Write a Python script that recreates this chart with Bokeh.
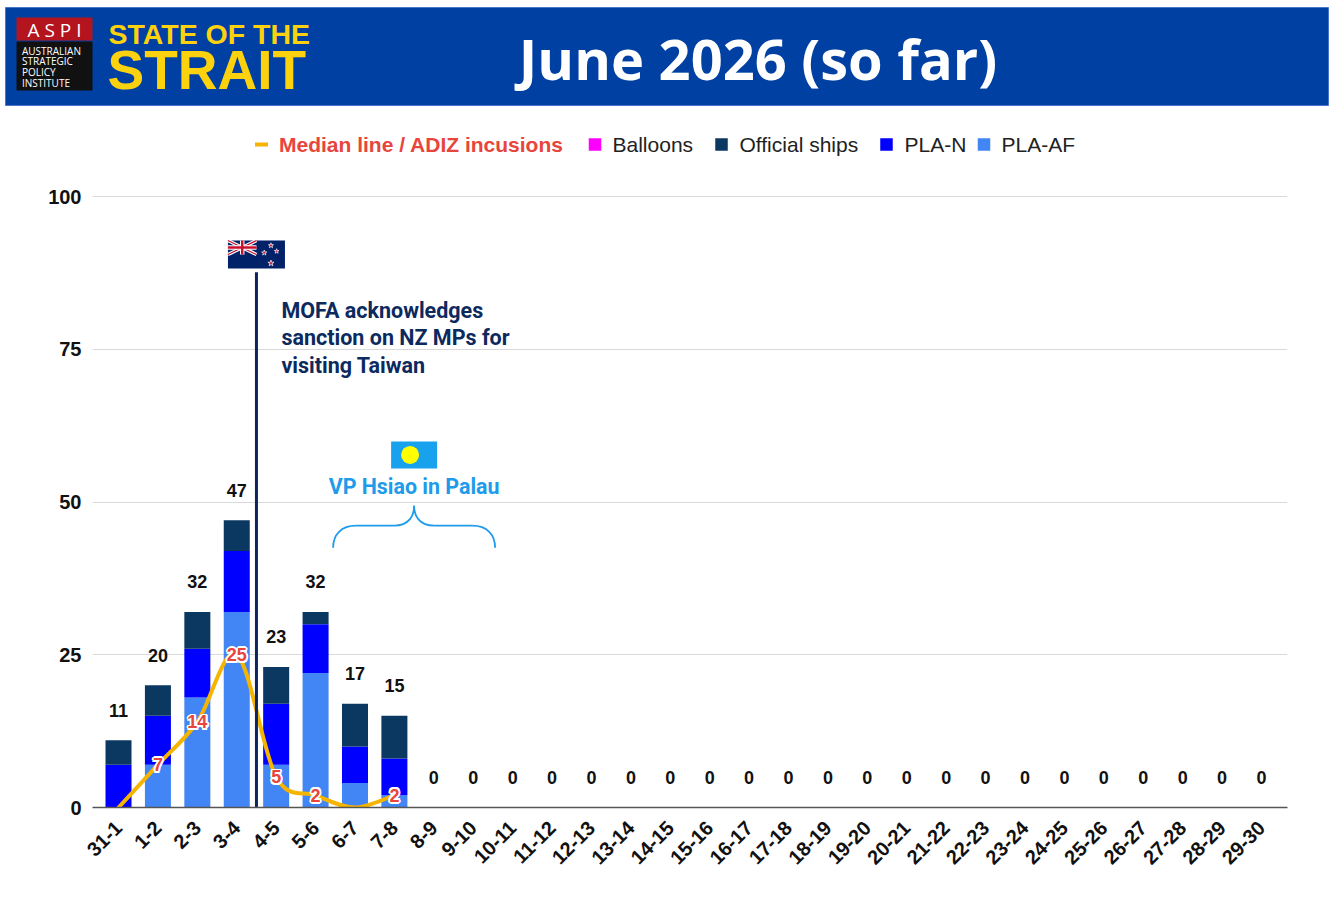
import math
from bokeh.plotting import figure
from bokeh.models import ColumnDataSource, Range1d, FixedTicker
from bokeh.layouts import column
from bokeh.core.properties import value
from bokeh.embed import file_html
from bokeh.resources import INLINE

# ---------------- data ----------------
days = ["31-1", "1-2", "2-3", "3-4", "4-5", "5-6", "6-7", "7-8", "8-9", "9-10",
        "10-11", "11-12", "12-13", "13-14", "14-15", "15-16", "16-17", "17-18",
        "18-19", "19-20", "20-21", "21-22", "22-23", "23-24", "24-25", "25-26",
        "26-27", "27-28", "28-29", "29-30"]
pla_af = [0, 7, 18, 32, 7, 22, 4, 2, 0, 0, 0, 0, 0, 0, 0, 0, 0, 0, 0, 0,
          0, 0, 0, 0, 0, 0, 0, 0, 0, 0]
pla_n = [7, 8, 8, 10, 10, 8, 6, 6, 0, 0, 0, 0, 0, 0, 0, 0, 0, 0, 0, 0,
         0, 0, 0, 0, 0, 0, 0, 0, 0, 0]
official_ships = [4, 5, 6, 5, 6, 2, 7, 7, 0, 0, 0, 0, 0, 0, 0, 0, 0, 0, 0, 0,
                  0, 0, 0, 0, 0, 0, 0, 0, 0, 0]
balloons = [0, 0, 0, 0, 0, 0, 0, 0, 0, 0, 0, 0, 0, 0, 0, 0, 0, 0, 0, 0,
            0, 0, 0, 0, 0, 0, 0, 0, 0, 0]
median_days = ["31-1", "1-2", "2-3", "3-4", "4-5", "5-6", "6-7", "7-8"]
median_vals = [0, 7, 14, 25, 5, 2, 0, 2]
y_ticks = [0, 25, 50, 75, 100]

series_names = ["PLA-AF", "PLA-N", "Official ships", "Balloons"]
series_colors = ["#4285f4", "#0000ff", "#0b3861", "#ff00ff"]
median_color = "#f4b400"
median_label_color = "#e8453c"

nz_event_text = ["MOFA acknowledges", "sanction on NZ MPs for", "visiting Taiwan"]
palau_event_text = "VP Hsiao in Palau"

# ---------------- layout constants ----------------
W = 1335
TOTAL_H = 905
HDR_H = 106
CH_H = TOTAL_H - HDR_H
MB_L, MB_R, MB_T, MB_B = 92, 48, 0, 98
FRAME_W = W - MB_L - MB_R
FRAME_H = CH_H - MB_T - MB_B
PX_Y = 6.11
YMAX = FRAME_H / PX_Y
XMIN, XMAX = -0.66, len(days) - 1 + 0.66
PX_X = FRAME_W / (XMAX - XMIN)


def ux(px):
    return px / PX_X


def uy(px):
    return px / PX_Y


FONT = value("Liberation Sans")
ROBOTO = value("Roboto")
OPEN = value("Open Sans")

# ---------------- header ----------------
h = figure(width=W, height=HDR_H, x_range=Range1d(0, W), y_range=Range1d(HDR_H, 0),
           toolbar_location=None, output_backend="svg", x_axis_type=None, y_axis_type=None,
           min_border=0, min_border_left=0, min_border_right=0, min_border_top=0,
           min_border_bottom=0, frame_align=False)
h.background_fill_color = "white"
h.border_fill_color = "white"
h.outline_line_color = None
h.grid.visible = False

h.quad(left=[5], right=[1328], top=[7], bottom=[105], fill_color="#0040a2",
       line_color="#4677c8", line_width=1)
h.quad(left=[16], right=[92], top=[17], bottom=[40], fill_color="#b3141d", line_color=None)
h.quad(left=[16], right=[92], top=[41], bottom=[90], fill_color="#111111", line_color=None)
h.text(x=[54], y=[29], text=["A S P I"], text_color="white", text_font=OPEN,
       text_font_size="19px", text_align="center", text_baseline="middle")
h.text(x=[21.5] * 4, y=[50, 60.7, 71.4, 82], text=["AUSTRALIAN", "STRATEGIC", "POLICY", "INSTITUTE"],
       text_color="white", text_font=OPEN, text_font_size="10px",
       text_align="left", text_baseline="middle")
h.text(x=[108], y=[33], text=["STATE OF THE"], text_color="#fcd20f",
       text_font=FONT, text_font_style="bold", text_font_size="28.5px", text_align="left",
       text_baseline="middle")
h.text(x=[107], y=[69], text=["STRAIT"], text_color="#fcd20f", text_font=FONT,
       text_font_style="bold", text_font_size="55px", text_align="left",
       text_baseline="middle")
h.text(x=[757.5], y=[57], text=["June 2026 (so far)"], text_color="white",
       text_font=OPEN, text_font_style="bold", text_font_size="56px",
       text_align="center", text_baseline="middle")

# ---------------- chart ----------------
p = figure(width=W, height=CH_H, x_range=Range1d(XMIN, XMAX), y_range=Range1d(0, YMAX),
           toolbar_location=None, output_backend="svg",
           min_border_left=MB_L, min_border_right=MB_R, min_border_top=MB_T,
           min_border_bottom=MB_B, frame_align=False)
p.outline_line_color = None
p.background_fill_color = "white"
p.border_fill_color = "white"

idx = list(range(len(days)))
src = ColumnDataSource(dict(x=idx, pla_af=pla_af, pla_n=pla_n,
                            official_ships=official_ships, balloons=balloons))
p.vbar_stack(["pla_af", "pla_n", "official_ships", "balloons"], x="x", width=0.66,
             fill_color=series_colors, line_color=None, source=src)

totals = [a + b + c + d for a, b, c, d in zip(pla_af, pla_n, official_ships, balloons)]
p.text(x=idx, y=totals, text=[str(t) for t in totals], y_offset=-30,
       text_font=FONT, text_font_style="bold", text_font_size="18px", text_color="#111111",
       text_align="center", text_baseline="middle")

# median smooth line (Catmull-Rom rendered as bezier curves)
mx = [days.index(d) for d in median_days]
my = median_vals
n = len(mx)
bx0, by0, bx1, by1, bcx0, bcy0, bcx1, bcy1 = [], [], [], [], [], [], [], []
for i in range(n - 1):
    pxm, pym = (mx[i - 1], my[i - 1]) if i > 0 else (mx[i], my[i])
    pxn, pyn = (mx[i + 2], my[i + 2]) if i + 2 < n else (mx[i + 1], my[i + 1])
    bx0.append(mx[i]); by0.append(my[i])
    bx1.append(mx[i + 1]); by1.append(my[i + 1])
    bcx0.append(mx[i] + (mx[i + 1] - pxm) / 6); bcy0.append(my[i] + (my[i + 1] - pym) / 6)
    bcx1.append(mx[i + 1] - (pxn - mx[i]) / 6); bcy1.append(my[i + 1] - (pyn - my[i]) / 6)
p.bezier(x0=bx0, y0=by0, x1=bx1, y1=by1, cx0=bcx0, cy0=bcy0, cx1=bcx1, cy1=bcy1,
         line_color=median_color, line_width=4, line_cap="round")

lab_x = [x for x, v in zip(mx, my) if v > 0]
lab_y = [v for v in my if v > 0]
lab_t = [str(v) for v in my if v > 0]
for ox, oy in [(-1.8, 0), (1.8, 0), (0, -1.8), (0, 1.8), (-1.3, -1.3), (1.3, 1.3), (-1.3, 1.3), (1.3, -1.3)]:
    p.text(x=lab_x, y=lab_y, text=lab_t, x_offset=ox, y_offset=oy, text_font=FONT,
           text_font_style="bold", text_font_size="18px", text_color="white",
           text_align="center", text_baseline="middle")
p.text(x=lab_x, y=lab_y, text=lab_t, text_font=FONT, text_font_style="bold",
       text_font_size="18px", text_color=median_label_color,
       text_align="center", text_baseline="middle")

# ---- NZ event: vertical line between 3-4 and 4-5, flag and text ----
NZX = days.index("3-4") + 0.5
nz_top = 87.6
p.segment(x0=[NZX], y0=[0], x1=[NZX], y1=[nz_top], line_color="#0b2560", line_width=3)
FX, FY = NZX, 90.5
p.rect(x=[FX], y=[FY], width=[57], height=[28], width_units="screen", height_units="screen",
       fill_color="#012169", line_color=None)
cl, cr, cb, ct = FX - ux(28.5), FX, FY, FY + uy(14)
cmx, cmy = (cl + cr) / 2, (cb + ct) / 2
p.segment(x0=[cl, cl], y0=[ct, cb], x1=[cr, cr], y1=[cb, ct], line_color="white", line_width=3.5)
p.segment(x0=[cl, cl], y0=[ct, cb], x1=[cr, cr], y1=[cb, ct], line_color="#c8102e", line_width=1.2)
p.segment(x0=[cl, cmx], y0=[cmy, cb], x1=[cr, cmx], y1=[cmy, ct], line_color="white", line_width=4.5)
p.segment(x0=[cl, cmx], y0=[cmy, cb], x1=[cr, cmx], y1=[cmy, ct], line_color="#c8102e", line_width=2.5)
p.scatter(x=[FX + ux(14.5), FX + ux(7.8), FX + ux(20.2), FX + ux(14.5)],
          y=[FY + uy(9), FY + uy(1.7), FY + uy(3.3), FY - uy(8.7)],
          marker="star", size=[5.5, 5.5, 5, 6.5], fill_color="#c8102e", line_color="white",
          line_width=0.7)
nz_text_y = [(807 - v) / PX_Y for v in (309.5, 337, 365)]
p.text(x=[NZX] * 3, y=nz_text_y, text=nz_event_text,
       x_offset=25, text_font=ROBOTO, text_font_style="bold", text_font_size="21.5px",
       text_color="#0c2a5e", text_align="left", text_baseline="middle")

# ---- Palau event: flag, text and brace ----
PLX = days.index("7-8") + 0.5
PLY = 57.7
p.rect(x=[PLX], y=[PLY], width=[46], height=[27], width_units="screen", height_units="screen",
       fill_color="#18a2ee", line_color=None)
p.scatter(x=[PLX - ux(4)], y=[PLY], marker="circle", size=18, fill_color="#ffff00", line_color=None)
p.text(x=[PLX], y=[52.5], text=[palau_event_text], text_font=ROBOTO, text_font_style="bold",
       text_font_size="21.4px", text_color="#1e9bea", text_align="center", text_baseline="middle")
tipy = 49.4
brace_c = "#1e9bea"
for s in (-1, 1):
    p.bezier(x0=[PLX + s * ux(81)], y0=[tipy - uy(42)], x1=[PLX + s * ux(58)], y1=[tipy - uy(20)],
             cx0=[PLX + s * ux(81)], cy0=[tipy - uy(29)], cx1=[PLX + s * ux(73)], cy1=[tipy - uy(20)],
             line_color=brace_c, line_width=1.8)
    p.segment(x0=[PLX + s * ux(58)], y0=[tipy - uy(20)], x1=[PLX + s * ux(20)], y1=[tipy - uy(20)],
              line_color=brace_c, line_width=1.8)
    p.bezier(x0=[PLX + s * ux(20)], y0=[tipy - uy(20)], x1=[PLX], y1=[tipy],
             cx0=[PLX + s * ux(5)], cy0=[tipy - uy(20)], cx1=[PLX], cy1=[tipy - uy(10)],
             line_color=brace_c, line_width=1.8)

# ---- legend (drawn manually, row above chart) ----
def lx(page_px):
    return XMIN + (page_px - MB_L) / PX_X


LY = 108.5
p.rect(x=[lx(261)], y=[LY], width=[13], height=[4], width_units="screen", height_units="screen",
       fill_color=median_color, line_color=None)
p.text(x=[lx(278.5)], y=[LY], text=["Median line / ADIZ incusions"], text_font=FONT,
       text_font_style="bold", text_font_size="21px", text_color=median_label_color,
       text_align="left", text_baseline="middle")
leg_sq_x = [594.5, 721, 886, 983.5]
leg_tx_x = [612, 739, 904, 1001]
leg_names = ["Balloons", "Official ships", "PLA-N", "PLA-AF"]
leg_cols = [series_colors[3], series_colors[2], series_colors[1], series_colors[0]]
p.scatter(x=[lx(v) for v in leg_sq_x], y=[LY] * 4, marker="square", size=12.5,
          fill_color=leg_cols, line_color=None)
p.text(x=[lx(v) for v in leg_tx_x], y=[LY] * 4, text=leg_names, text_font=FONT,
       text_font_size="21px", text_color="#222222", text_align="left", text_baseline="middle")

# ---- axes ----
p.yaxis.ticker = FixedTicker(ticks=y_ticks)
p.yaxis.axis_line_color = None
p.yaxis.major_tick_line_color = None
p.yaxis.minor_tick_line_color = None
p.yaxis.major_tick_out = 0
p.yaxis.major_tick_in = 0
p.yaxis.major_label_standoff = 11
p.yaxis.major_label_text_font = "Liberation Sans"
p.yaxis.major_label_text_font_style = "bold"
p.yaxis.major_label_text_font_size = "20px"
p.yaxis.major_label_text_color = "#111111"

p.xaxis.ticker = FixedTicker(ticks=idx)
p.xaxis.major_label_overrides = {i: d for i, d in enumerate(days)}
p.xaxis.axis_line_color = "#555555"
p.xaxis.axis_line_width = 1.5
p.xaxis.major_tick_line_color = None
p.xaxis.minor_tick_line_color = None
p.xaxis.major_tick_out = 0
p.xaxis.major_tick_in = 0
p.xaxis.major_label_orientation = math.pi / 4
p.xaxis.major_label_standoff = 17
p.xaxis.major_label_text_font = "Liberation Sans"
p.xaxis.major_label_text_font_style = "bold"
p.xaxis.major_label_text_font_size = "20px"
p.xaxis.major_label_text_color = "#111111"

p.xgrid.visible = False
p.ygrid.grid_line_color = "#d9d9d9"
p.ygrid.grid_line_width = 1

layout = column(h, p, spacing=0)
html = file_html(layout, INLINE)
html = html.replace("<head>", "<head><style>html,body{margin:0;padding:0;overflow:hidden;}</style>", 1)
open("out.html", "w").write(html)
